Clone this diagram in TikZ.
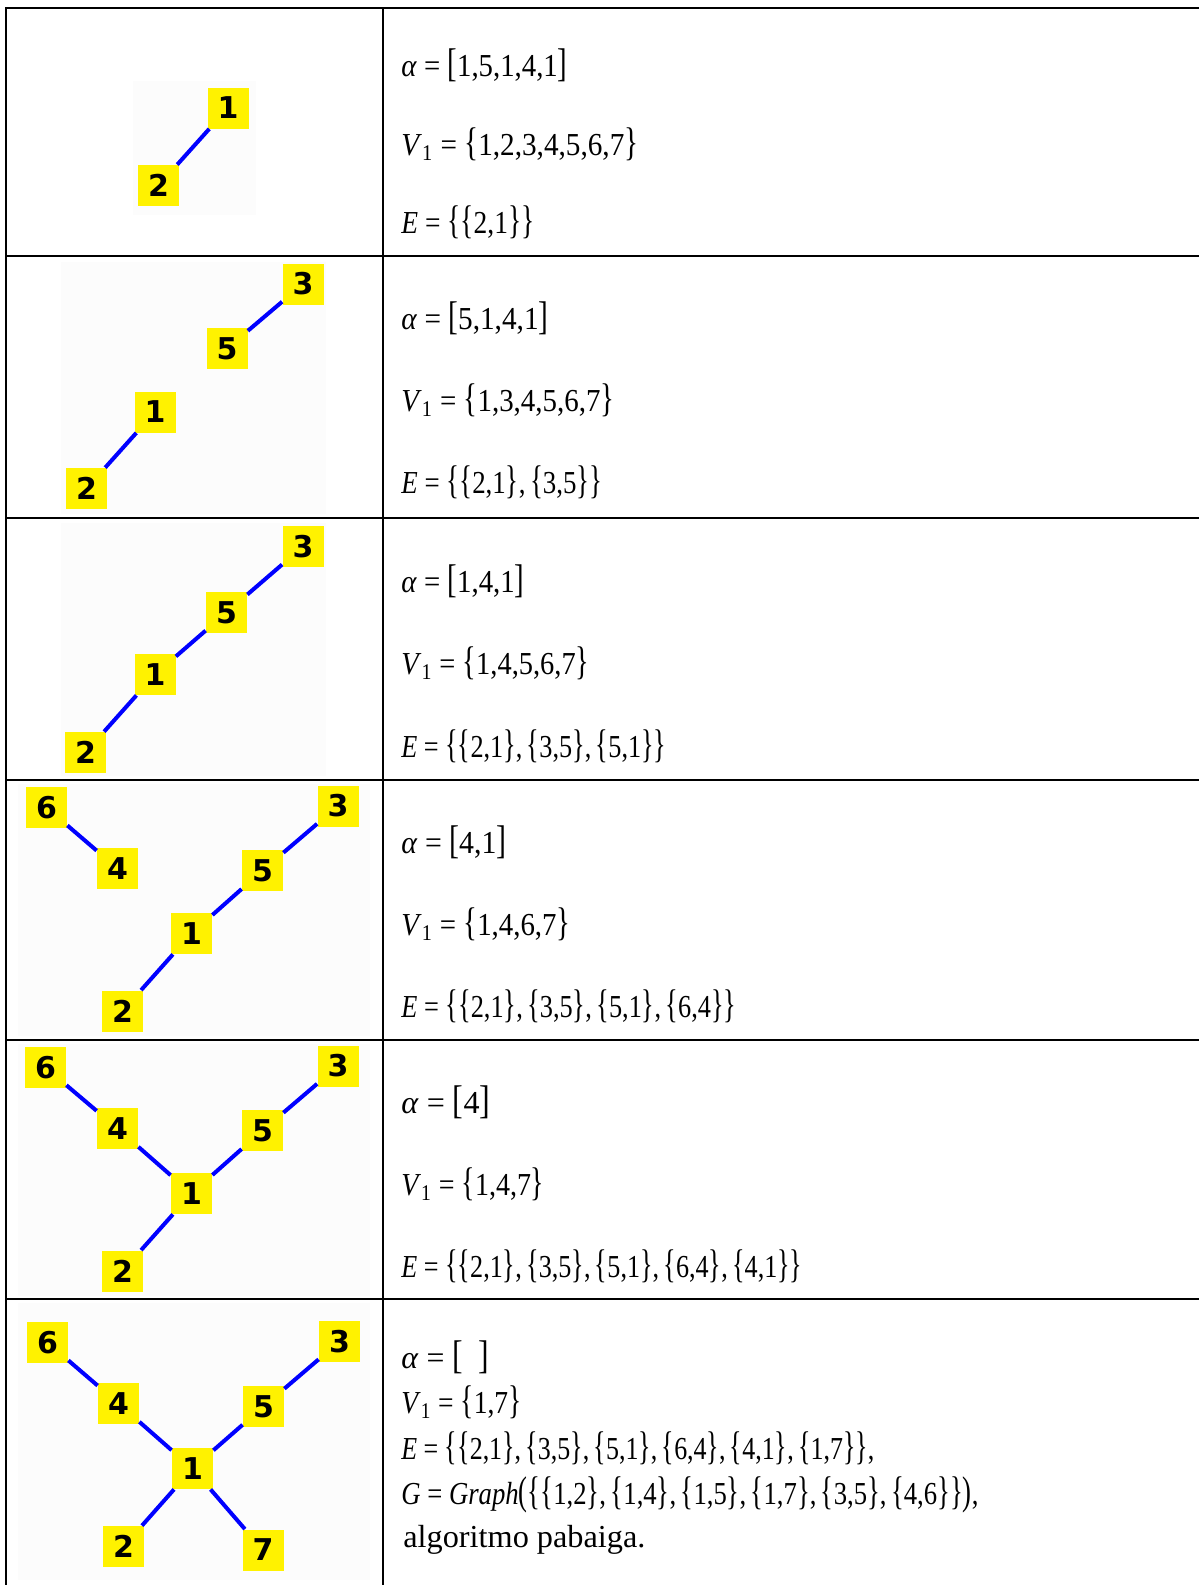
\documentclass[tikz,border=0pt]{standalone}
\usepackage{fontspec}
\setmainfont{Liberation Serif}
\newfontfamily\vtxfont{DejaVu Sans}
\usepackage{graphicx}
\usetikzlibrary{positioning}

% tall delimiters, sets and lists
\newcommand{\dl}[1]{\scalebox{1}[1.25]{#1}}
\newcommand{\pset}[1]{\dl{\{}#1\dl{\}}}
\newcommand{\plist}[1]{\dl{[}#1\dl{]}}
% squeeze a line to a given width
\newcommand{\fw}[2]{\resizebox{#1}{\height}{#2}}

\begin{document}
\begin{tikzpicture}[
  x=0.5pt, y=-0.5pt,
  rule/.style    = {line width=1.2pt, line cap=rect},
  shade/.style   = {fill=black!1.2},
  vtx/.style     = {fill=yellow, minimum size=20.5pt, inner sep=0pt,
                    font=\vtxfont\bfseries\fontsize{15}{15}\selectfont},
  edge/.style    = {blue, line width=2pt},
  formula/.style = {anchor=base west, inner sep=0pt, font=\fontsize{16}{19}\selectfont},
]
  \useasboundingbox (0,0) rectangle (1199,1585);

  \fill[shade] (133,81)  rectangle (256,215);
  \fill[shade] (61,262)  rectangle (326,514);
  \fill[shade] (61,523)  rectangle (326,776);
  \fill[shade] (18,784)  rectangle (370,1036);
  \fill[shade] (18,1044) rectangle (370,1296);
  \fill[shade] (18,1303) rectangle (370,1580);

  % table
  \foreach \y in {8,256,518,780,1040,1299}
    \draw[rule] (6,\y) -- (1199,\y);
  \draw[rule] (6,8)   -- (6,1585);
  \draw[rule] (383,8) -- (383,1585);

  % row 1
  \node[vtx] (a1) at (228,108)     {1};
  \node[vtx] (a2) at (158.5,185.5) {2};
  \draw[edge] (a2) -- (a1);
  \node[formula] (ta) at (401,76)  {\fw{83pt}{\textit{α} = \plist{1,5,1,4,1}}};
  \node[formula] (va) at (401,155) {\fw{118.5pt}{\textit{V}\textsubscript{1} = \pset{1,2,3,4,5,6,7}}};
  \node[formula] (ea) at (401,233) {\fw{66.5pt}{\textit{E} = \pset{\pset{2,1}}}};

  % row 2
  \node[vtx] (b3) at (303,284)     {3};
  \node[vtx] (b5) at (227,348.5)   {5};
  \node[vtx] (b1) at (155,412)     {1};
  \node[vtx] (b2) at (86.5,488.5)  {2};
  \draw[edge] (b2) -- (b1);
  \draw[edge] (b3) -- (b5);
  \node[formula] (tb) at (401,329) {\fw{73.5pt}{\textit{α} = \plist{5,1,4,1}}};
  \node[formula] (vb) at (401,411) {\fw{106.5pt}{\textit{V}\textsubscript{1} = \pset{1,3,4,5,6,7}}};
  \node[formula] (eb) at (401,493) {\fw{100.5pt}{\textit{E} = \pset{\pset{2,1},\,\pset{3,5}}}};

  % row 3
  \node[vtx] (c3) at (303,546.5)   {3};
  \node[vtx] (c5) at (226.5,612.5) {5};
  \node[vtx] (c1) at (155,674.5)   {1};
  \node[vtx] (c2) at (85.5,752.5)  {2};
  \draw[edge] (c2) -- (c1);
  \draw[edge] (c3) -- (c5);
  \draw[edge] (c5) -- (c1);
  \node[formula] (tc) at (401,592) {\fw{61.5pt}{\textit{α} = \plist{1,4,1}}};
  \node[formula] (vc) at (401,674) {\fw{94pt}{\textit{V}\textsubscript{1} = \pset{1,4,5,6,7}}};
  \node[formula] (ec) at (401,757) {\fw{132.5pt}{\textit{E} = \pset{\pset{2,1},\,\pset{3,5},\,\pset{5,1}}}};

  % row 4
  \node[vtx] (d6) at (46.5,807.5)  {6};
  \node[vtx] (d4) at (117.5,868.5) {4};
  \node[vtx] (d3) at (338,806)     {3};
  \node[vtx] (d5) at (262.5,870.5) {5};
  \node[vtx] (d1) at (191.5,933.5) {1};
  \node[vtx] (d2) at (122.5,1011)  {2};
  \draw[edge] (d2) -- (d1);
  \draw[edge] (d3) -- (d5);
  \draw[edge] (d5) -- (d1);
  \draw[edge] (d6) -- (d4);
  \node[formula] (td) at (401,853)  {\fw{52.5pt}{\textit{α} = \plist{4,1}}};
  \node[formula] (vd) at (401,935)  {\fw{84.5pt}{\textit{V}\textsubscript{1} = \pset{1,4,6,7}}};
  \node[formula] (ed) at (401,1017) {\fw{167.5pt}{\textit{E} = \pset{\pset{2,1},\,\pset{3,5},\,\pset{5,1},\,\pset{6,4}}}};

  % row 5
  \node[vtx] (e6) at (45.5,1067.5)  {6};
  \node[vtx] (e4) at (117.5,1128.5) {4};
  \node[vtx] (e3) at (338,1066)     {3};
  \node[vtx] (e5) at (262.5,1130.5) {5};
  \node[vtx] (e1) at (191.5,1193.5) {1};
  \node[vtx] (e2) at (122.5,1271)   {2};
  \draw[edge] (e2) -- (e1);
  \draw[edge] (e3) -- (e5);
  \draw[edge] (e5) -- (e1);
  \draw[edge] (e6) -- (e4);
  \draw[edge] (e4) -- (e1);
  \node[formula] (te) at (401,1113) {\fw{44.5pt}{\textit{α} = \plist{4}}};
  \node[formula] (ve) at (401,1195) {\fw{71.5pt}{\textit{V}\textsubscript{1} = \pset{1,4,7}}};
  \node[formula] (ee) at (401,1277) {\fw{200.5pt}{\textit{E} = \pset{\pset{2,1},\,\pset{3,5},\,\pset{5,1},\,\pset{6,4},\,\pset{4,1}}}};

  % row 6
  \node[vtx] (f6) at (47.5,1342.5)  {6};
  \node[vtx] (f4) at (118.5,1403.5) {4};
  \node[vtx] (f3) at (339.5,1341.5) {3};
  \node[vtx] (f5) at (263.5,1406.5) {5};
  \node[vtx] (f1) at (192.5,1468.5) {1};
  \node[vtx] (f2) at (123.5,1546.5) {2};
  \node[vtx] (f7) at (263,1550)     {7};
  \draw[edge] (f2) -- (f1);
  \draw[edge] (f3) -- (f5);
  \draw[edge] (f5) -- (f1);
  \draw[edge] (f6) -- (f4);
  \draw[edge] (f4) -- (f1);
  \draw[edge] (f1) -- (f7);
  \node[formula] (tf) at (401,1368) {\fw{44pt}{\textit{α} = \plist{\ \ }}};
  \node[formula] (vf) at (401,1413) {\fw{60pt}{\textit{V}\textsubscript{1} = \pset{1,7}}};
  \node[formula] (ef) at (401,1459) {\fw{236.5pt}{\textit{E} = \pset{\pset{2,1},\,\pset{3,5},\,\pset{5,1},\,\pset{6,4},\,\pset{4,1},\,\pset{1,7}},}};
  \node[formula] (gf) at (401,1504) {\fw{288.5pt}{\textit{G} = \textit{Graph}\dl{(}\pset{\pset{1,2},\,\pset{1,4},\,\pset{1,5},\,\pset{1,7},\,\pset{3,5},\,\pset{4,6}}\dl{)},}};
  \node[formula] (af) at (403,1547) {\fw{121pt}{algoritmo pabaiga.}};
\end{tikzpicture}
\end{document}
